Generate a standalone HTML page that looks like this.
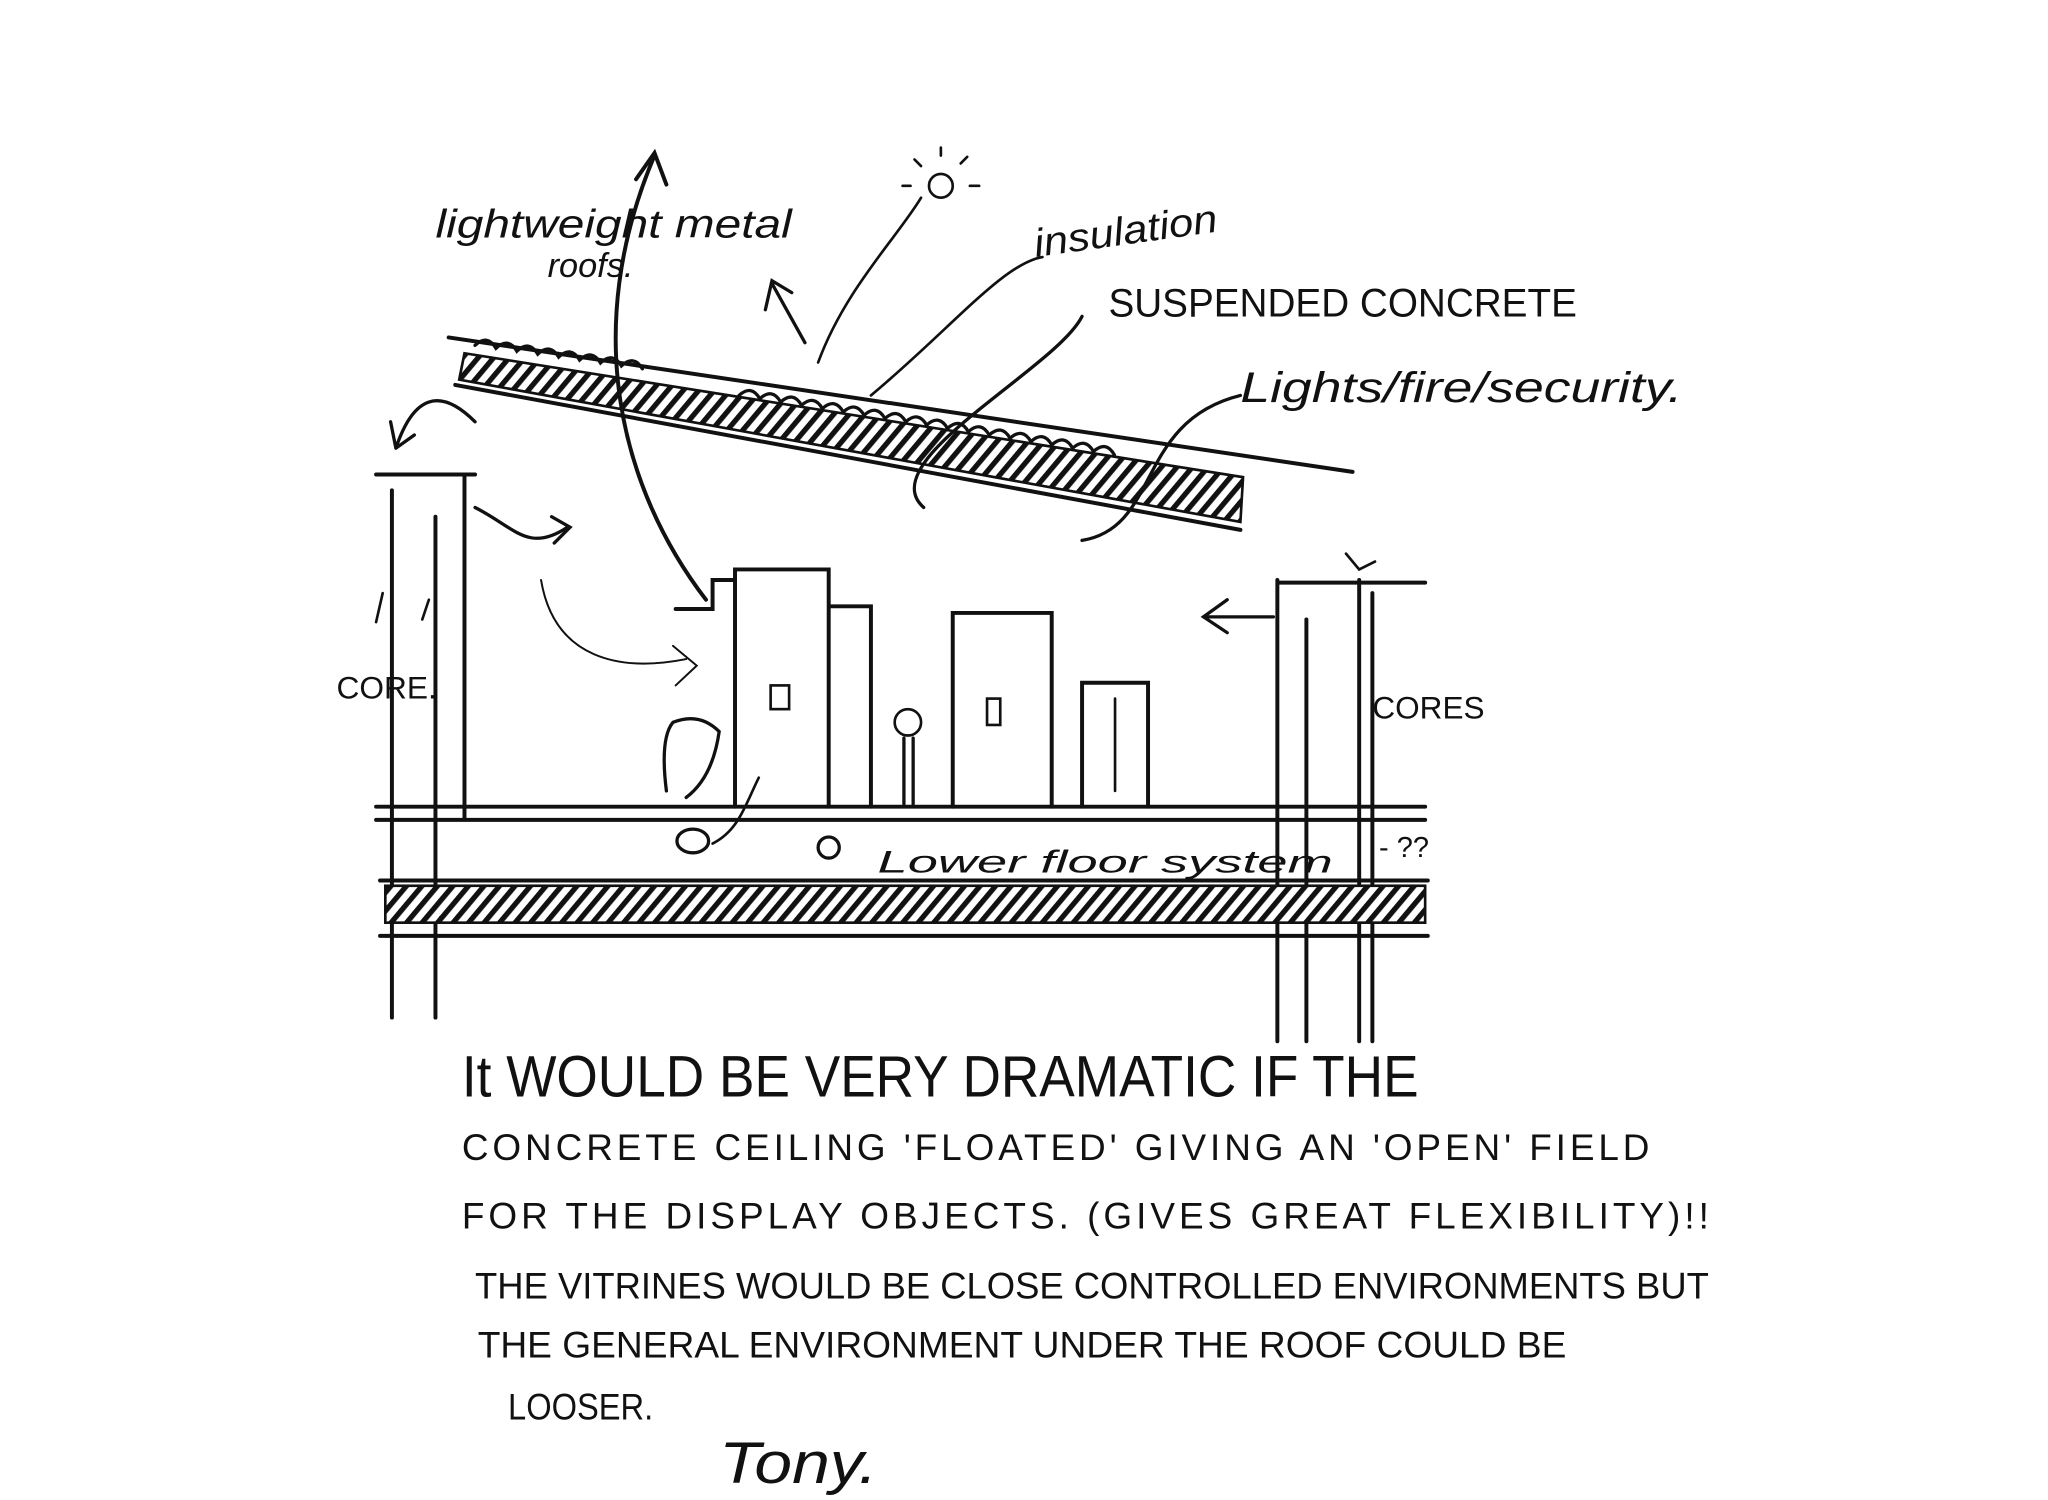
<!DOCTYPE html>
<html><head><meta charset="utf-8"><style>
html,body{margin:0;padding:0;background:#fff;}
svg{display:block;}
text{font-family:"Liberation Sans",sans-serif;fill:#111;}
</style></head><body>
<svg width="2048" height="1500" viewBox="0 0 1552 1138" preserveAspectRatio="none" xmlns="http://www.w3.org/2000/svg">
<defs>
<pattern id="h" width="9" height="9" patternUnits="userSpaceOnUse" patternTransform="rotate(40)">
<rect width="9" height="9" fill="#fff"/><rect width="4" height="9" fill="#111"/></pattern>
</defs>
<g stroke="#111" fill="none" stroke-linecap="round" stroke-width="3">
<path d="M340 256 L1025 358" stroke-width="3"/>
<polygon points="352,268 942,362 940,396 348,288" fill="url(#h)" stroke-width="2"/>
<path d="M345 292 L940 402" stroke-width="3"/>
<path d="M360 262 q8 -10 16 0 q8 -10 16 0 q8 -10 16 0 q8 -10 16 0 q8 -10 16 0 q8 -10 16 0 q8 -10 16 0 q8 -10 16 0" stroke-width="2.5" transform="rotate(8 360 262)"/>
<path d="M560 300 q8 -10 16 0 q8 -10 16 0 q8 -10 16 0 q8 -10 16 0 q8 -10 16 0 q8 -10 16 0 q8 -10 16 0 q8 -10 16 0 q8 -10 16 0 q8 -10 16 0 q8 -10 16 0 q8 -10 16 0 q8 -10 16 0 q8 -10 16 0 q8 -10 16 0 q8 -10 16 0 q8 -10 16 0 q8 -10 16 0" stroke-width="2.5" transform="rotate(9 560 300)"/>
<path d="M297 372 V772 M330 392 V772 M352 390 V620 M285 360 H360 M352 360 V392"/>
<path d="M300 340 q20 -60 60 -20 M300 340 l-4 -20 M300 340 l14 -10" stroke-width="2.5"/>
<path d="M968 440 V790 M990 470 V790 M1030 440 V790 M968 442 H1080 M1040 450 V790"/>
<path d="M285 612 H1080 M285 622 H1080"/>
<rect x="292" y="672" width="788" height="28" fill="url(#h)" stroke-width="2"/>
<path d="M288 668 H1082 M288 710 H1082"/>
<path d="M557 612 V432 H628 V612 M628 460 H660 V612 M722 612 V465 H797 V612 M820 612 V518 H870 V612 M512 462 L540 462 L540 440 L557 440"/>
<rect x="584" y="520" width="14" height="18" stroke-width="2"/>
<path d="M535 455 C470 370 440 250 496 118 M482 136 L496 116 L505 140" />
<path d="M620 275 C640 220 680 180 698 150" stroke-width="2"/>
<path d="M610 260 L585 215 M580 235 L585 213 L600 222" stroke-width="2.5"/>
<path d="M660 300 C720 250 760 200 790 195" stroke-width="2"/>
<path d="M700 385 C660 350 800 280 820 240" stroke-width="2.5"/>
<path d="M820 410 C880 400 860 320 940 300" stroke-width="2.5"/>
<path d="M360 385 C390 400 400 420 430 400 M418 392 L432 400 L420 412" stroke-width="2.5"/>
<path d="M410 440 C420 500 470 510 520 500 M510 490 L528 505 L512 520" stroke-width="1.5"/>
<path d="M965 468 H915 M930 455 L912 468 L930 480" stroke-width="2.5"/>
<path d="M540 640 C560 630 565 610 575 590" stroke-width="2"/>
<path d="M290 450 L285 472 M320 470 L325 455" stroke-width="2"/>
<circle cx="713" cy="141" r="9" stroke-width="2"/>
<path d="M713 118v-6 M728 124l5-5 M735 141h7 M698 126l-5-5 M690 141h-6" stroke-width="2"/>
<circle cx="688" cy="548" r="10" stroke-width="2"/>
<path d="M685 560 V610 M692 560 V610" stroke-width="2.5"/>
<path d="M505 600 Q500 560 510 548 Q530 540 545 555 Q540 590 520 605" stroke-width="2.5"/>
<ellipse cx="525" cy="638" rx="12" ry="9" stroke-width="2.5"/>
<circle cx="628" cy="643" r="8" stroke-width="2.5"/>
<rect x="748" y="530" width="10" height="20" stroke-width="2"/>
<path d="M845 530 V600 M1020 420 l10 12 l12 -6" stroke-width="2"/>
</g>
<g>
<text x="330" y="180" font-size="30" font-family="Liberation Serif" font-style="italic" textLength="270" lengthAdjust="spacingAndGlyphs">lightweight metal</text>
<text x="415" y="210" font-size="26" font-family="Liberation Serif" font-style="italic">roofs.</text>
<text x="785" y="195" font-size="30" font-family="Liberation Serif" font-style="italic" transform="rotate(-8 785 195)" textLength="140" lengthAdjust="spacingAndGlyphs">insulation</text>
<text x="840" y="240" font-size="30" textLength="355" lengthAdjust="spacingAndGlyphs">SUSPENDED CONCRETE</text>
<text x="940" y="305" font-size="32" font-family="Liberation Serif" font-style="italic" textLength="335" lengthAdjust="spacingAndGlyphs">Lights/fire/security.</text>
<text x="255" y="530" font-size="24">CORE.</text>
<text x="1040" y="545" font-size="24" textLength="85" lengthAdjust="spacingAndGlyphs">CORES</text>
<text x="665" y="662" font-size="24" font-family="Liberation Serif" font-style="italic" textLength="345" lengthAdjust="spacingAndGlyphs">Lower floor system</text>
<text x="1045" y="650" font-size="22">- ??</text>
<text x="350" y="832" font-size="44" textLength="725" lengthAdjust="spacingAndGlyphs">It WOULD BE VERY DRAMATIC IF THE</text>
<text x="350" y="880" font-size="28" textLength="900" lengthAdjust="spacing">CONCRETE CEILING 'FLOATED' GIVING AN 'OPEN' FIELD</text>
<text x="350" y="932" font-size="28" textLength="945" lengthAdjust="spacing">FOR THE DISPLAY OBJECTS. (GIVES GREAT FLEXIBILITY)!!</text>
<text x="360" y="985" font-size="28" textLength="935" lengthAdjust="spacingAndGlyphs">THE VITRINES WOULD BE CLOSE CONTROLLED ENVIRONMENTS BUT</text>
<text x="362" y="1030" font-size="28" textLength="825" lengthAdjust="spacingAndGlyphs">THE GENERAL ENVIRONMENT UNDER THE ROOF COULD BE</text>
<text x="385" y="1077" font-size="28" textLength="110" lengthAdjust="spacingAndGlyphs">LOOSER.</text>
<text x="545" y="1125" font-size="44" font-family="Liberation Serif" font-style="italic" textLength="120" lengthAdjust="spacingAndGlyphs">Tony.</text>
</g>
</svg>
</body></html>
